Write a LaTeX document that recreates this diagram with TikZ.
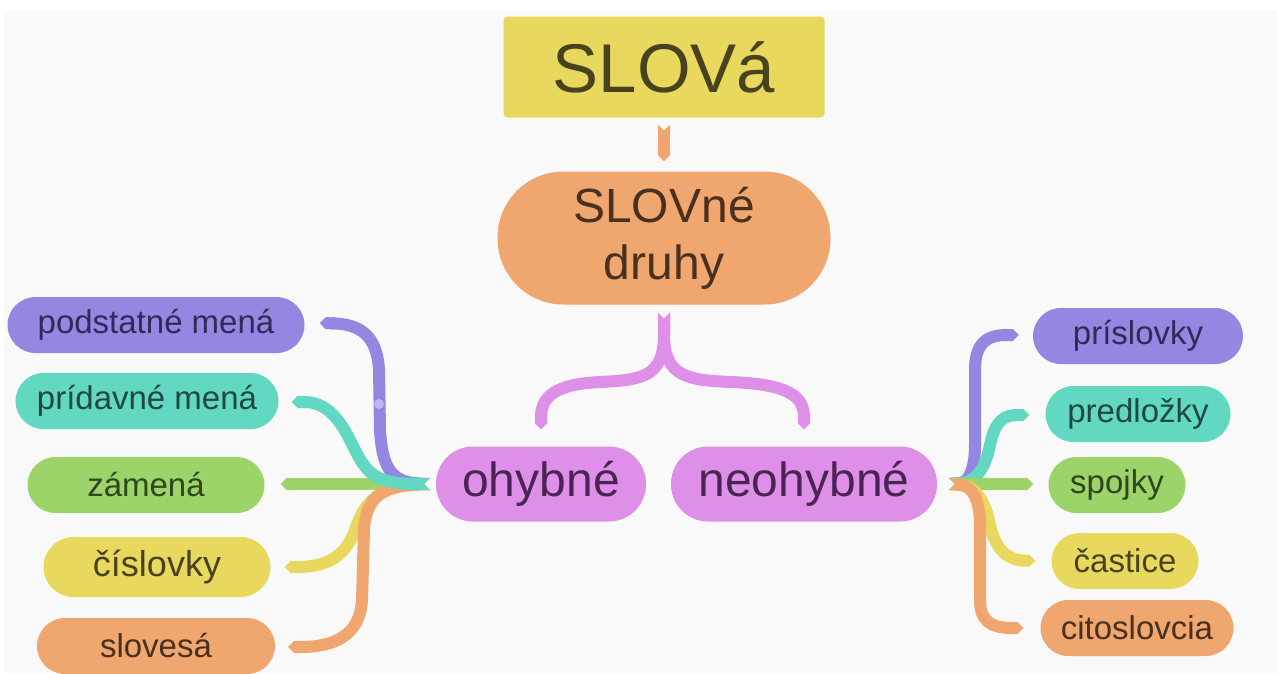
\documentclass[tikz,border=0pt]{standalone}
\usepackage{fontspec}
\setmainfont{Liberation Sans}
\usetikzlibrary{arrows.meta}
\definecolor{bgc}{HTML}{F9F9F9}
\definecolor{cpur}{HTML}{9487E2}\definecolor{tpur}{HTML}{2E2B58}
\definecolor{ctea}{HTML}{62D8C3}\definecolor{ttea}{HTML}{204840}
\definecolor{cgre}{HTML}{9CD46A}\definecolor{tgre}{HTML}{30461F}
\definecolor{cyel}{HTML}{E8D95E}\definecolor{tyel}{HTML}{48421F}
\definecolor{cora}{HTML}{EFA66F}\definecolor{tora}{HTML}{4A301E}
\definecolor{cpin}{HTML}{DE8FE8}\definecolor{tpin}{HTML}{4A2452}
\definecolor{cdot}{HTML}{BDB4F0}
\begin{document}
\begin{tikzpicture}[x=1pt,y=-1pt,
  pill/.style={rectangle,inner sep=0pt,minimum height=56pt,rounded corners=28pt,
    font=\fontsize{33}{40}\selectfont},
  pur/.style={pill,fill=cpur,text=tpur},
  tea/.style={pill,fill=ctea,text=ttea},
  gre/.style={pill,fill=cgre,text=tgre},
  yel/.style={pill,fill=cyel,text=tyel},
  ora/.style={pill,fill=cora,text=tora},
  mid/.style={rectangle,inner sep=0pt,minimum height=75pt,rounded corners=37pt,
    fill=cpin,text=tpin,font=\fontsize{48}{57}\selectfont},
  conn/.style={line width=12pt,{Triangle Cap[reversed]}-{Triangle Cap}}]
\useasboundingbox (0,0) rectangle (1277,673);
\fill[white] (0,0) rectangle (1277,673);
\fill[bgc] (4,10) rectangle (1277,673);

% main nodes
\node[rectangle,fill=cyel,text=tyel,rounded corners=4pt,minimum width=321pt,minimum height=101pt,
  font=\fontsize{69}{80}\selectfont] (slova) at (664,67) {SLOVá};
\node[rectangle,fill=cora,text=tora,rounded corners=66pt,minimum width=333pt,minimum height=133pt,
  align=center,font=\fontsize{48}{57}\selectfont] (druhy) at (664,238) {SLOVné\\druhy};
\node[mid,minimum width=210pt] (ohyb) at (541,484) {ohybné};
\node[mid,minimum width=266pt] (neoh) at (804,484) {neohybné};

% left children
\node[pur,minimum width=297pt] (podst) at (156,325) {podstatné mená};
\node[tea,minimum width=263pt] (prid) at (147,401) {prídavné mená};
\node[gre,minimum width=237pt] (zam) at (146,485) {zámená};
\node[yel,minimum width=227pt,minimum height=60pt,rounded corners=30pt,
  font=\fontsize{36}{43}\selectfont] (cisl) at (157,567) {číslovky};
\node[ora,minimum width=238pt] (slov) at (156,646) {slovesá};

% right children
\node[pur,minimum width=210pt] (prisl) at (1138,336) {príslovky};
\node[tea,minimum width=185pt] (predl) at (1138,414) {predložky};
\node[gre,minimum width=137pt] (spoj) at (1117,485) {spojky};
\node[yel,minimum width=147pt] (cast) at (1125,561) {častice};
\node[ora,minimum width=193pt] (cito) at (1137,628) {citoslovcia};

% top connectors
\draw[conn,cora] ([yshift=-7pt]slova.south) -- ([yshift=10pt]druhy.north);
\draw[conn,cpin] ([yshift=-8pt]druhy.south) -- (664,335) .. controls (664,378) and (640,380) .. (600,382)
  .. controls (555,384) and (541,397) .. ([yshift=17pt]ohyb.north);
\draw[conn,cpin] ([yshift=-8pt]druhy.south) -- (664,335) .. controls (664,378) and (690,380) .. (730,382)
  .. controls (790,384) and (804,397) .. ([yshift=17pt]neoh.north);

% left connectors
\draw[conn,cpur] ([xshift=-6pt]ohyb.west) .. controls (390,482) and (382,465) .. (380,430)
  -- (379,370) .. controls (377,335) and (360,324) .. ([xshift=15pt,yshift=2pt]podst.east);
\fill[cdot] (379,404) circle (5pt);
\draw[conn,cgre] ([xshift=-6pt]ohyb.west) -- ([xshift=16pt,yshift=1pt]zam.east);
\draw[conn,cyel] ([xshift=-6pt]ohyb.west) .. controls (380,486) and (365,500) .. (355,530)
  .. controls (345,558) and (325,567) .. ([xshift=14pt]cisl.east);
\draw[conn,cora] ([xshift=-6pt]ohyb.west) .. controls (385,486) and (366,495) .. (364,530)
  -- (362,600) .. controls (360,635) and (335,647) .. ([xshift=13pt,yshift=-1pt]slov.east);
\draw[conn,ctea] ([xshift=-6pt]ohyb.west) .. controls (370,484) and (365,470) .. (350,440)
  .. controls (335,410) and (320,402) .. ([xshift=13pt,yshift=-1pt]prid.east);

% right connectors
\draw[conn,cpur] ([xshift=12pt]neoh.east) .. controls (968,482) and (975,470) .. (975,445)
  -- (975,370) .. controls (975,345) and (985,335) .. ([xshift=-14pt,yshift=1pt]prisl.west);
\draw[conn,ctea] ([xshift=12pt]neoh.east) .. controls (975,482) and (985,470) .. (990,445)
  .. controls (995,420) and (1005,415) .. ([xshift=-16pt,yshift=-1pt]predl.west);
\draw[conn,cgre] ([xshift=12pt]neoh.east) -- ([xshift=-15pt,yshift=1pt]spoj.west);
\draw[conn,cyel] ([xshift=12pt]neoh.east) .. controls (975,486) and (985,500) .. (990,525)
  .. controls (996,552) and (1010,560) .. ([xshift=-16pt]cast.west);
\draw[conn,cora] ([xshift=12pt]neoh.east) .. controls (972,486) and (980,500) .. (980,525)
  -- (980,600) .. controls (980,620) and (990,628) .. ([xshift=-17pt]cito.west);
\end{tikzpicture}
\end{document}
